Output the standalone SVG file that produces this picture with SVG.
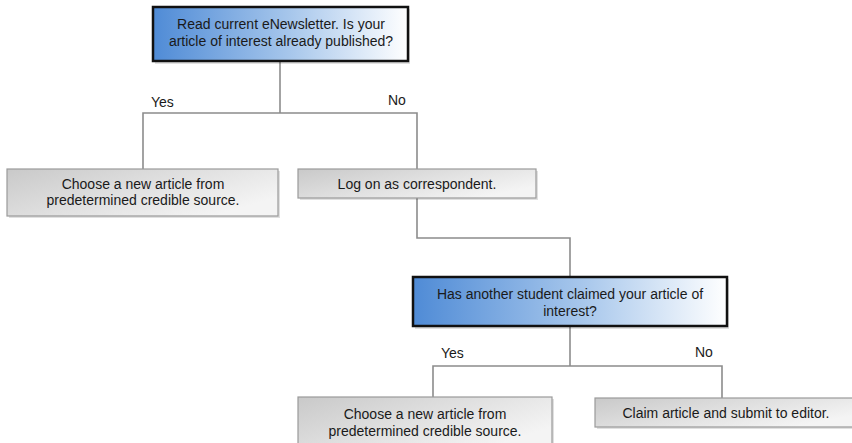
<svg xmlns="http://www.w3.org/2000/svg" width="852" height="443" viewBox="0 0 852 443">
<defs>
<linearGradient id="blue" x1="0" y1="0" x2="1" y2="0">
<stop offset="0" stop-color="#4f8bd6"/>
<stop offset="0.55" stop-color="#a9c8ec"/>
<stop offset="1" stop-color="#ffffff"/>
</linearGradient>
<linearGradient id="gray" x1="0" y1="0" x2="1" y2="0.6">
<stop offset="0" stop-color="#c9c9c9"/>
<stop offset="1" stop-color="#f4f4f4"/>
</linearGradient>
</defs>
<style>
text{font-family:"Liberation Sans",Arial,sans-serif;font-size:14px;fill:#1a1a1a;}
.c{text-anchor:middle;}
.dec{fill:url(#blue);stroke:#111;stroke-width:2.5;}
.act{fill:url(#gray);stroke:#9a9a9a;stroke-width:1.2;}
.shadow{fill:#000;opacity:0.12;}
.conn{fill:none;stroke:#8c8c8c;stroke-width:1.6;}
</style>
<rect width="852" height="443" fill="#fff"/>
<g id="connectors">
<polyline class="conn" points="280,61 280,113"/>
<polyline class="conn" points="143,169 143,113 417,113 417,169"/>
<polyline class="conn" points="417,198 417,238 570,238 570,277"/>
<polyline class="conn" points="570,326 570,366"/>
<polyline class="conn" points="433,397 433,366 722,366 722,398"/>
</g>
<g id="labels">
<text x="151" y="107">Yes</text>
<text x="388" y="105">No</text>
<text x="441" y="358">Yes</text>
<text x="695" y="357">No</text>
</g>
<g id="q1">
<rect class="shadow" x="155" y="9" width="255" height="55"/>
<rect class="dec" x="153" y="7" width="255" height="54"/>
<text class="c" x="281" y="29">Read current eNewsletter. Is your</text>
<text class="c" x="281" y="46">article of interest already published?</text>
</g>
<g id="choose1">
<rect class="shadow" x="9" y="171" width="271" height="47"/>
<rect class="act" x="7" y="169" width="271" height="47"/>
<text class="c" x="143" y="189">Choose a new article from</text>
<text class="c" x="143" y="205">predetermined credible source.</text>
</g>
<g id="logon">
<rect class="shadow" x="300" y="171" width="238" height="29"/>
<rect class="act" x="298" y="169" width="238" height="29"/>
<text class="c" x="417" y="189">Log on as correspondent.</text>
</g>
<g id="q2">
<rect class="shadow" x="415" y="279" width="314" height="50"/>
<rect class="dec" x="413" y="277" width="314" height="49"/>
<text class="c" x="570" y="299">Has another student claimed your article of</text>
<text class="c" x="570" y="316">interest?</text>
</g>
<g id="choose2">
<rect class="shadow" x="300" y="399" width="254" height="50"/>
<rect class="act" x="298" y="397" width="254" height="50"/>
<text class="c" x="425" y="419">Choose a new article from</text>
<text class="c" x="425" y="436">predetermined credible source.</text>
</g>
<g id="claim">
<rect class="shadow" x="597" y="400" width="260" height="29"/>
<rect class="act" x="595" y="398" width="260" height="29"/>
<text class="c" x="726" y="418">Claim article and submit to editor.</text>
</g>
</svg>
